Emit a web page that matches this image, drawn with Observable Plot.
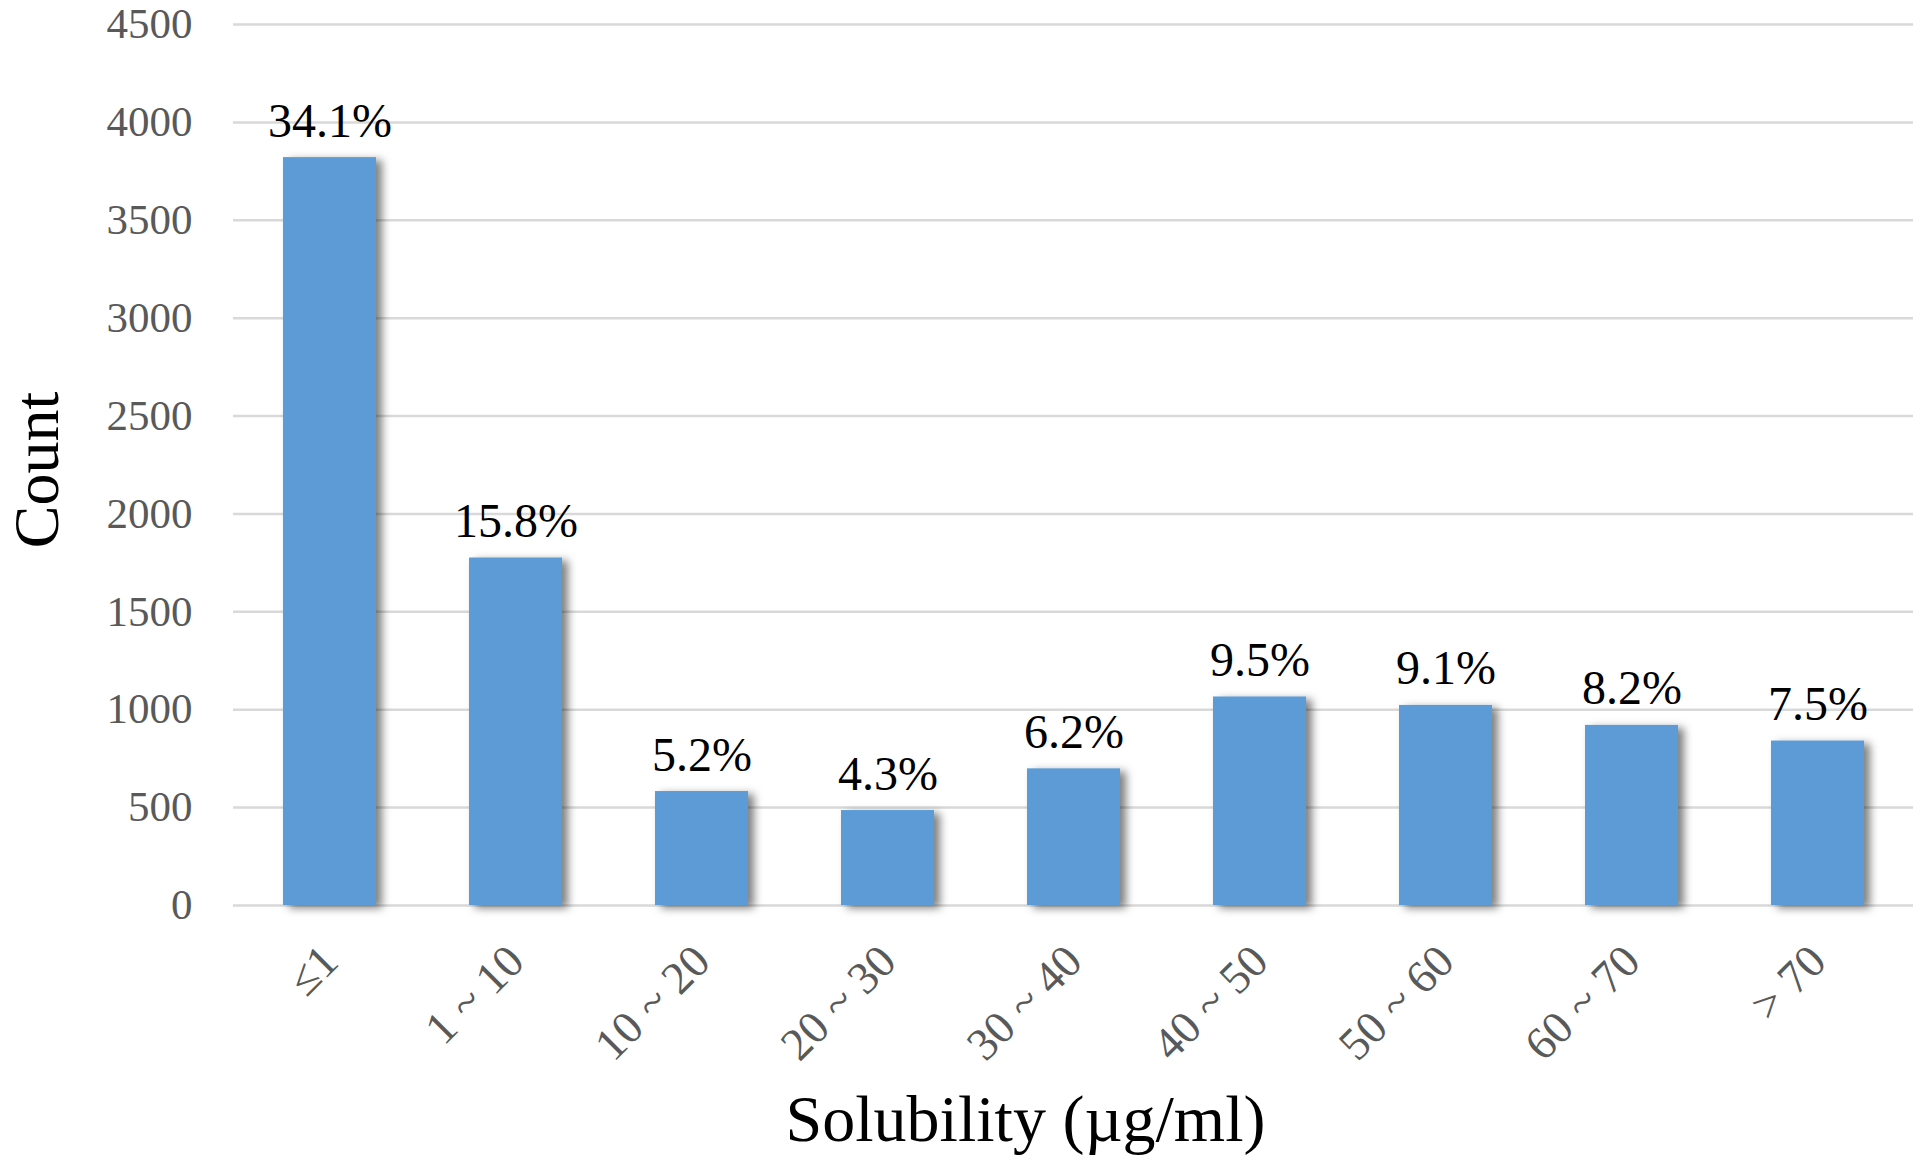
<!DOCTYPE html>
<html>
<head>
<meta charset="utf-8">
<script src="https://cdn.jsdelivr.net/npm/d3@7"></script>
<script src="https://cdn.jsdelivr.net/npm/@observablehq/plot@0.6"></script>
<style>
  html, body { margin: 0; padding: 0; background: #ffffff; }
  #chart { width: 1920px; height: 1164px; }
</style>
</head>
<body>
<div id="chart"></div>
<script>
// ---- data ----
const categories = ["≤1", "1 ~ 10", "10 ~ 20", "20 ~ 30", "30 ~ 40", "40 ~ 50", "50 ~ 60", "60 ~ 70", "> 70"];
const counts = [3820, 1775, 582, 485, 698, 1065, 1022, 920, 840];
const percentLabels = ["34.1%", "15.8%", "5.2%", "4.3%", "6.2%", "9.5%", "9.1%", "8.2%", "7.5%"];
const yTicks = [0, 500, 1000, 1500, 2000, 2500, 3000, 3500, 4000, 4500];
const xTitle = "Solubility (µg/ml)";
const yTitle = "Count";

const table = categories.map((c, i) => ({cat: c, count: counts[i], pct: percentLabels[i]}));

const chart = Plot.plot({
  width: 1920,
  height: 1164,
  marginLeft: 233,
  marginRight: 7,
  marginTop: 24,
  marginBottom: 259,
  style: {fontFamily: "'Liberation Serif', 'Times New Roman', serif", background: "#ffffff", color: "#000"},
  x: {domain: categories, paddingInner: 0.5, paddingOuter: 0.25, label: null},
  y: {domain: [0, 4500], label: null},
  marks: [
    Plot.gridY(yTicks, {stroke: "#d9d9d9", strokeOpacity: 1, strokeWidth: 2.5}),
    Plot.axisY(yTicks, {tickSize: 0, tickPadding: 41, fontSize: 43, fill: "#595959", tickFormat: d => String(d), label: null}),
    Plot.axisX({tickSize: 0, tickPadding: 48, tickRotate: -45, fontSize: 46, fill: "#595959", label: null}),
    Plot.barY(table, {x: "cat", y: "count", fill: "#5b9bd5"}),
    Plot.text(table, {x: "cat", y: "count", text: "pct", dy: -21, lineAnchor: "bottom", fontSize: 48, fill: "#000"}),
    Plot.text([yTitle], {text: d => d, frameAnchor: "left", textAnchor: "middle", dx: -176, dy: 5, rotate: -90, fontSize: 64, fill: "#000", lineAnchor: "bottom"}),
    Plot.text([xTitle], {text: d => d, frameAnchor: "bottom", dx: -48, dy: 235, lineAnchor: "bottom", fontSize: 66, fill: "#000"})
  ]
});

// soft drop shadow on bars, as in the reference
const svgNS = "http://www.w3.org/2000/svg";
const defs = document.createElementNS(svgNS, "defs");
defs.innerHTML = '<filter id="barShadow" x="-20%" y="-10%" width="150%" height="130%"><feDropShadow dx="6" dy="3" stdDeviation="4.5" flood-color="#000" flood-opacity="0.5"/></filter>';
chart.insertBefore(defs, chart.firstChild);
const barGroup = chart.querySelector('g[aria-label="bar"]');
if (barGroup) barGroup.setAttribute("filter", "url(#barShadow)");

document.getElementById("chart").appendChild(chart);
</script>
</body>
</html>
